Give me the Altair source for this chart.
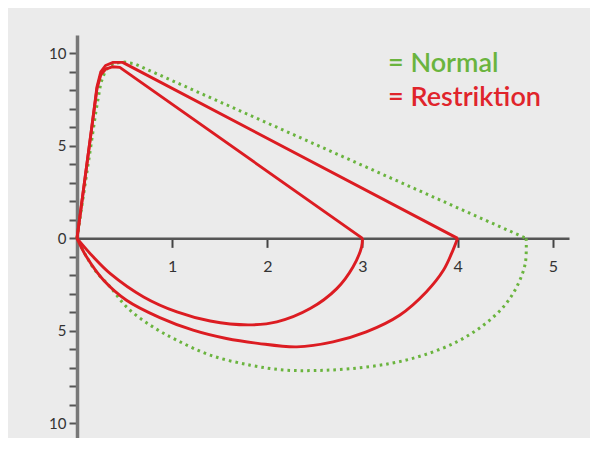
import altair as alt
import pandas as pd

# ---- data (volume in L, flow in L/s) ----
normal_up_vol = [0.0, 0.07, 0.14, 0.20, 0.25, 0.30, 0.38, 0.48, 0.60, 4.72]
normal_up_flow = [0.0, 2.4, 4.8, 6.9, 8.4, 9.1, 9.45, 9.55, 9.45, 0.0]
normal_lo_vol = [4.72, 4.71, 4.62, 4.48, 4.27, 3.99, 3.64, 3.29, 2.87, 2.50, 2.17,
                 1.82, 1.40, 1.05, 0.77, 0.52, 0.35, 0.20, 0.09, 0.0]
normal_lo_flow = [0.0, -1.37, -2.63, -3.71, -4.70, -5.60, -6.32, -6.77, -7.05, -7.15, -7.12,
                  -6.86, -6.32, -5.51, -4.70, -3.71, -2.63, -1.80, -0.90, 0.0]

r3_up_vol = [0.0, 0.15, 0.21, 0.25, 0.30, 0.37, 0.45, 3.0]
r3_up_flow = [0.0, 5.8, 8.1, 8.85, 9.15, 9.28, 9.25, 0.0]
r3_lo_vol = [3.0, 2.99, 2.90, 2.73, 2.45, 2.10, 1.80, 1.40, 1.05, 0.70, 0.35, 0.17, 0.0]
r3_lo_flow = [0.0, -0.47, -1.55, -2.72, -3.80, -4.52, -4.68, -4.47, -3.98, -3.17, -1.91, -1.0, 0.0]

r4_up_vol = [0.0, 0.15, 0.21, 0.25, 0.30, 0.38, 0.48, 4.0]
r4_up_flow = [0.0, 5.8, 8.2, 9.0, 9.35, 9.52, 9.52, 0.0]
r4_lo_vol = [4.0, 3.95, 3.85, 3.67, 3.39, 3.04, 2.69, 2.31, 1.90, 1.57, 1.22, 0.87, 0.52, 0.28, 0.10, 0.0]
r4_lo_flow = [0.0, -0.65, -1.73, -2.90, -4.16, -5.06, -5.60, -5.87, -5.68, -5.42, -4.97, -4.29,
              -3.35, -2.27, -1.0, 0.0]

x_ticks = [1, 2, 3, 4, 5]
y_ticks = list(range(-10, 11))
legend_labels = ["= Normal", "= Restriktion"]

GREEN = "#6ab43e"
RED = "#dc1c22"

rows = []


def add(curve, part, vols, flows):
    for i, (v, f) in enumerate(zip(vols, flows)):
        rows.append({"curve": curve, "part": part, "idx": i, "vol": v, "flow": f})


add("normal", "up", normal_up_vol, normal_up_flow)
add("normal", "lo", normal_lo_vol, normal_lo_flow)
add("r3", "up", r3_up_vol, r3_up_flow)
add("r3", "lo", r3_lo_vol, r3_lo_flow)
add("r4", "up", r4_up_vol, r4_up_flow)
add("r4", "lo", r4_lo_vol, r4_lo_flow)
df = pd.DataFrame(rows)

W, H = 492, 403
Y_DOM = [-10.8, 11.0]
y0_px = H * Y_DOM[1] / (Y_DOM[1] - Y_DOM[0])

x_enc = alt.X(
    "vol:Q",
    scale=alt.Scale(domain=[0, 5.17], nice=False, zero=False),
    axis=alt.Axis(
        values=x_ticks, orient="bottom", offset=y0_px - H, title=None, grid=False,
        domainColor="#555555", domainWidth=2.5, tickColor="#444444", tickWidth=2,
        tickSize=9, labelFont="Lato", labelFontSize=16, labelColor="#333333",
        labelPadding=11, labelFlush=False, labelOverlap=False,
    ),
)
y_enc = alt.Y(
    "flow:Q",
    scale=alt.Scale(domain=Y_DOM, nice=False, zero=False),
    axis=alt.Axis(
        values=y_ticks, title=None, grid=False,
        labelExpr="datum.value % 5 == 0 ? '' + abs(datum.value) : ''",
        domainColor="#777777", domainWidth=3.5, tickColor="#555555", tickWidth=2,
        tickSize=8, labelFont="Lato", labelFontSize=15, labelColor="#333333",
        labelPadding=3, labelOverlap=False, labelFlush=False,
    ),
)

base = alt.Chart(df)

normal_up = base.transform_filter("datum.curve == 'normal' && datum.part == 'up'").mark_line(
    color=GREEN, strokeWidth=3, strokeDash=[2.6, 4], interpolate="linear"
).encode(x=x_enc, y=y_enc, order="idx:Q")
normal_lo = base.transform_filter("datum.curve == 'normal' && datum.part == 'lo'").mark_line(
    color=GREEN, strokeWidth=3, strokeDash=[2.6, 4], interpolate="catmull-rom"
).encode(x=x_enc, y=y_enc, order="idx:Q")
red_up = base.transform_filter("datum.curve != 'normal' && datum.part == 'up'").mark_line(
    color=RED, strokeWidth=2.9, interpolate="linear", strokeJoin="round"
).encode(x=x_enc, y=y_enc, detail="curve:N", order="idx:Q")
red_lo = base.transform_filter("datum.curve != 'normal' && datum.part == 'lo'").mark_line(
    color=RED, strokeWidth=2.9, interpolate="catmull-rom"
).encode(x=x_enc, y=y_enc, detail="curve:N", order="idx:Q")

leg_df = pd.DataFrame({"label": legend_labels})
leg_normal = alt.Chart(leg_df).transform_filter(f"datum.label == '{legend_labels[0]}'").mark_text(
    align="left", baseline="alphabetic", font="Lato", fontSize=27, fontWeight=600, color=GREEN
).encode(text="label:N", x=alt.value(311), y=alt.value(37))
leg_restr = alt.Chart(leg_df).transform_filter(f"datum.label == '{legend_labels[1]}'").mark_text(
    align="left", baseline="alphabetic", font="Lato", fontSize=27, fontWeight=600, color="#e0242b"
).encode(text="label:N", x=alt.value(311), y=alt.value(71))

chart = alt.layer(normal_up, normal_lo, red_up, red_lo, leg_normal, leg_restr).properties(
    width=W, height=H, background="#ebebeb",
    padding={"left": 69, "top": 27, "right": 21, "bottom": 0},
    autosize=alt.AutoSizeParams(type="none"),
).configure_view(stroke=None)

chart.save("out.html", embed_options={"renderer": "svg", "actions": False})
